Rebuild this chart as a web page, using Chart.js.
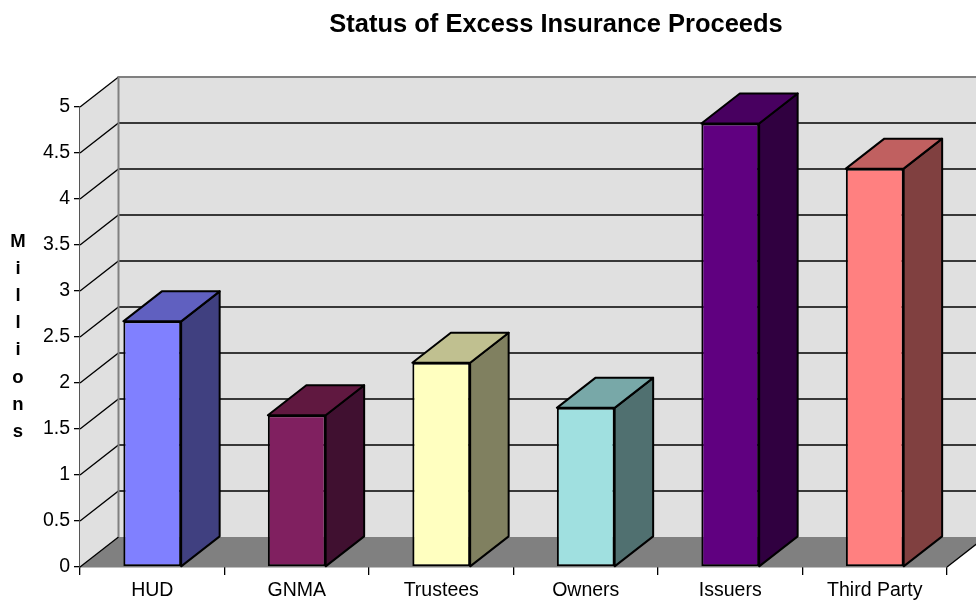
<!DOCTYPE html>
<html>
<head>
<meta charset="utf-8">
<script src="https://cdn.jsdelivr.net/npm/chart.js@4.4.1/dist/chart.umd.min.js"></script>
<style>
  body { margin: 0; background: #fff; }
  #wrap { width: 976px; height: 601px; }
</style>
</head>
<body>
<div id="wrap"><canvas id="myChart" width="976" height="601"></canvas></div>
<script>
// chart data
const categories = ["HUD", "GNMA", "Trustees", "Owners", "Issuers", "Third Party"];
const proceeds = [2.67, 1.65, 2.22, 1.73, 4.82, 4.33];
const yTicks = [0, 0.5, 1, 1.5, 2, 2.5, 3, 3.5, 4, 4.5, 5];
const axisLabel = "Millions";
const titleText = "Status of Excess Insurance Proceeds";

// face colours (front / side / top)
const frontColors = ["#8080FF", "#802060", "#FFFFC0", "#A0E0E0", "#600080", "#FF8080"];
const sideColors = ["#404080", "#401030", "#808060", "#507070", "#300040", "#804040"];
const topColors = ["#6060C0", "#601840", "#C0C090", "#78A8A8", "#480060", "#C06060"];

const FONT = "'Liberation Sans', Arial, sans-serif";

// depth of the 3d box
const DX = 38.5;
const DY = 30;

const wallsPlugin = {
  id: "walls",
  beforeDatasetsDraw(chart) {
    const ctx = chart.ctx;
    const ca = chart.chartArea;
    const y = chart.scales.y;
    const x0 = ca.left, x1 = ca.right;
    const yb = y.getPixelForValue(0), yt = y.getPixelForValue(5);
    ctx.save();
    // back wall
    ctx.fillStyle = "#E0E0E0";
    ctx.fillRect(x0 + DX, yt - DY, x1 + DX - x0, yb - yt);
    // left wall
    ctx.beginPath();
    ctx.moveTo(x0, yt);
    ctx.lineTo(x0 + DX, yt - DY);
    ctx.lineTo(x0 + DX, yb - DY);
    ctx.lineTo(x0, yb);
    ctx.closePath();
    ctx.fill();
    // floor
    ctx.fillStyle = "#808080";
    ctx.beginPath();
    ctx.moveTo(x0, yb);
    ctx.lineTo(x0 + DX, yb - DY);
    ctx.lineTo(x1 + DX, yb - DY);
    ctx.lineTo(x1, yb);
    ctx.closePath();
    ctx.fill();
    // grid lines
    ctx.lineWidth = 1.3;
    yTicks.forEach(v => {
      const py = y.getPixelForValue(v);
      ctx.strokeStyle = "#000";
      ctx.beginPath();
      ctx.moveTo(x0, py);
      ctx.lineTo(x0 + DX, py - DY);
      if (v > 0 && v < 5) ctx.lineTo(x1 + DX, py - DY);
      ctx.stroke();
    });
    // wall edges
    ctx.strokeStyle = "#808080";
    ctx.lineWidth = 2;
    ctx.beginPath();
    ctx.moveTo(x0 + DX, yb - DY);
    ctx.lineTo(x0 + DX, yt - DY);
    ctx.lineTo(x1 + DX, yt - DY);
    ctx.stroke();
    ctx.strokeStyle = "#000";
    ctx.lineWidth = 1.3;
    ctx.beginPath();
    ctx.moveTo(x1, yb);
    ctx.lineTo(x1 + DX, yb - DY);
    ctx.stroke();
    ctx.restore();
  },
  afterDatasetsDraw(chart) {
    const ctx = chart.ctx;
    const meta = chart.getDatasetMeta(0);
    ctx.save();
    ctx.lineWidth = 2;
    ctx.strokeStyle = "#000";
    ctx.lineJoin = "round";
    meta.data.forEach((bar, i) => {
      const l = bar.x - bar.width / 2, r = bar.x + bar.width / 2;
      const t = bar.y, b = bar.base;
      // side face
      ctx.fillStyle = sideColors[i];
      ctx.beginPath();
      ctx.moveTo(r, b);
      ctx.lineTo(r + DX, b - DY);
      ctx.lineTo(r + DX, t - DY);
      ctx.lineTo(r, t);
      ctx.closePath();
      ctx.fill();
      ctx.stroke();
      // top face
      ctx.fillStyle = topColors[i];
      ctx.beginPath();
      ctx.moveTo(l, t);
      ctx.lineTo(l + DX, t - DY);
      ctx.lineTo(r + DX, t - DY);
      ctx.lineTo(r, t);
      ctx.closePath();
      ctx.fill();
      ctx.stroke();
    });
    ctx.restore();
  },
  afterDraw(chart) {
    const ctx = chart.ctx;
    ctx.save();
    ctx.fillStyle = "#000";
    ctx.textAlign = "center";
    ctx.textBaseline = "middle";
    // title
    ctx.font = "bold 25.5px " + FONT;
    ctx.fillText(titleText, 556, 25);
    // stacked axis title
    ctx.font = "bold 18.5px " + FONT;
    axisLabel.split("").forEach((ch, i) => {
      ctx.fillText(ch, 18, 242 + i * 27.1);
    });
    ctx.restore();
  }
};

const ctx = document.getElementById("myChart").getContext("2d");
const chart = new Chart(ctx, {
  type: "bar",
  data: {
    labels: categories,
    datasets: [
      {
        label: axisLabel,
        data: proceeds,
        backgroundColor: frontColors,
        borderColor: "#000",
        borderWidth: 2,
        borderSkipped: false,
        categoryPercentage: 1,
        barPercentage: 0.4
      }
    ]
  },
  options: {
    responsive: false,
    animation: false,
    layout: { padding: { left: 0, right: 29, top: 107, bottom: 0 } },
    plugins: {
      legend: { display: false },
      tooltip: { enabled: false },
      title: { display: false }
    },
    scales: {
      x: {
        offset: true,
        afterFit: s => { s.height = 34; },
        grid: {
          drawOnChartArea: false,
          offset: true,
          tickLength: 8,
          color: "#000",
          lineWidth: 1.3
        },
        border: { color: "#000", width: 1.3 },
        ticks: {
          color: "#000",
          padding: 4,
          font: { family: FONT, size: 19.5 }
        }
      },
      y: {
        min: 0,
        max: 5,
        afterFit: s => { s.width = 80; },
        afterBuildTicks: s => { s.ticks = yTicks.map(v => ({ value: v })); },
        grid: {
          drawOnChartArea: false,
          tickLength: 6,
          color: "#000",
          lineWidth: 1.3
        },
        border: { color: "#555", width: 1.5 },
        ticks: {
          color: "#000",
          padding: 4,
          font: { family: FONT, size: 19.5 },
          callback: v => String(v)
        }
      }
    }
  },
  plugins: [wallsPlugin]
});
</script>
</body>
</html>
